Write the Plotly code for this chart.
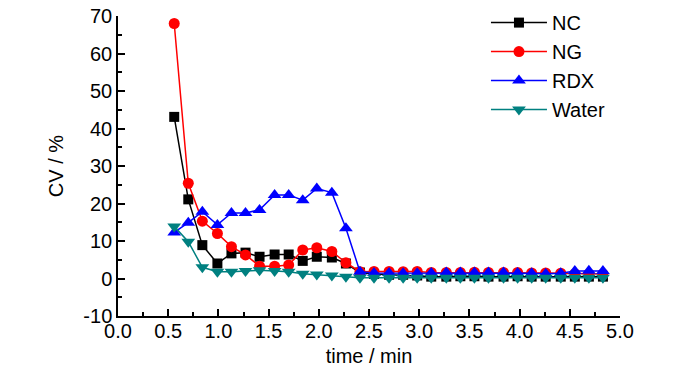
import plotly.graph_objects as go

time_min = [0.56, 0.70, 0.84, 0.99, 1.13, 1.27, 1.41, 1.56, 1.70, 1.84, 1.98, 2.13, 2.27, 2.41,
            2.55, 2.70, 2.84, 2.98, 3.12, 3.27, 3.41, 3.55, 3.69, 3.84, 3.98, 4.12, 4.26, 4.41,
            4.55, 4.69, 4.83]

nc = [43.1, 21.1, 8.9, 4.0, 6.7, 6.9, 5.8, 6.4, 6.4, 4.7, 5.8, 5.6, 4.0, 1.6,
      1.2, 1.0, 1.0, 0.8, 0.5, 0.5, 0.6, 0.6, 0.5, 0.5, 0.6, 0.5, 0.5, 0.5,
      0.5, 0.5, 0.5]
ng = [68.0, 25.4, 15.3, 12.0, 8.5, 6.3, 3.3, 3.3, 3.6, 7.6, 8.2, 7.2, 4.2, 1.8,
      1.9, 1.9, 1.8, 1.9, 1.6, 1.6, 1.6, 1.7, 1.6, 1.6, 1.6, 1.5, 1.5, 1.4,
      1.3, 1.2, 1.2]
rdx = [12.3, 14.9, 17.8, 14.3, 17.5, 17.5, 18.3, 22.3, 22.3, 20.9, 24.0, 22.9, 13.4, 1.8,
       1.5, 1.5, 1.4, 1.4, 1.5, 1.6, 1.6, 1.6, 1.6, 1.6, 1.5, 1.4, 1.3, 1.4,
       2.0, 2.1, 2.0]
water = [13.9, 9.8, 3.0, 1.8, 1.8, 2.0, 2.2, 2.0, 1.8, 1.3, 1.1, 0.8, 0.5, 0.2,
         0.2, 0.2, 0.2, 0.2, 0.2, 0.2, 0.2, 0.2, 0.2, 0.2, 0.2, 0.2, 0.2, 0.2,
         0.2, 0.2, 0.2]

x_ticks = [0.0, 0.5, 1.0, 1.5, 2.0, 2.5, 3.0, 3.5, 4.0, 4.5, 5.0]
x_tick_labels = ["0.0", "0.5", "1.0", "1.5", "2.0", "2.5", "3.0", "3.5", "4.0", "4.5", "5.0"]
y_ticks = [-10, 0, 10, 20, 30, 40, 50, 60, 70]
y_tick_labels = ["-10", "0", "10", "20", "30", "40", "50", "60", "70"]

FONT = "Liberation Sans, Arial, sans-serif"

series = [
    ("NC", nc, "#000000", "square", 10),
    ("NG", ng, "#FF0000", "circle", 11),
    ("RDX", rdx, "#0000FF", "triangle-up", 12),
    ("Water", water, "#008080", "triangle-down", 12),
]

fig = go.Figure()
for i, (name, vals, color, sym, sz) in enumerate(series):
    fig.add_trace(go.Scatter(
        x=time_min, y=vals, name=name, mode="lines+markers",
        line=dict(color=color, width=1.5),
        marker=dict(symbol=sym, size=sz, color=color, line=dict(width=0)),
        legendgroup=f"g{i}",
    ))

axis_common = dict(
    showline=True, linecolor="black", linewidth=1.5, mirror=False,
    ticks="inside", ticklen=7, tickwidth=1.5, tickcolor="black",
    showgrid=False, zeroline=False, automargin=False,
    tickfont=dict(family=FONT, size=20, color="black"),
)

fig.update_xaxes(
    range=[0, 5.0], tickmode="array", tickvals=x_ticks, ticktext=x_tick_labels,
    minor=dict(ticks="inside", dtick=0.25, ticklen=4, tickwidth=1.5, tickcolor="black"),
    ticklabelstandoff=-4,
    title=dict(text="time / min", font=dict(family=FONT, size=20, color="black"), standoff=8),
    **axis_common,
)
fig.update_yaxes(
    range=[-10, 70], tickmode="array", tickvals=y_ticks, ticktext=y_tick_labels,
    minor=dict(ticks="inside", dtick=5, ticklen=4, tickwidth=1.5, tickcolor="black"),
    title=dict(text="CV / %", font=dict(family=FONT, size=20, color="black"), standoff=14),
    **axis_common,
)

fig.update_layout(
    width=700, height=374,
    margin=dict(l=118, r=80, t=16, b=58, autoexpand=False),
    paper_bgcolor="white", plot_bgcolor="white",
    showlegend=True,
    legend=dict(
        x=0.733, y=1.043, xanchor="left", yanchor="top",
        font=dict(family=FONT, size=20, color="black"),
        bgcolor="rgba(0,0,0,0)", tracegroupgap=0, itemwidth=56,
    ),
)

fig.write_html("out.html", config={"displayModeBar": False},
               post_script="document.body.style.margin='0';")
